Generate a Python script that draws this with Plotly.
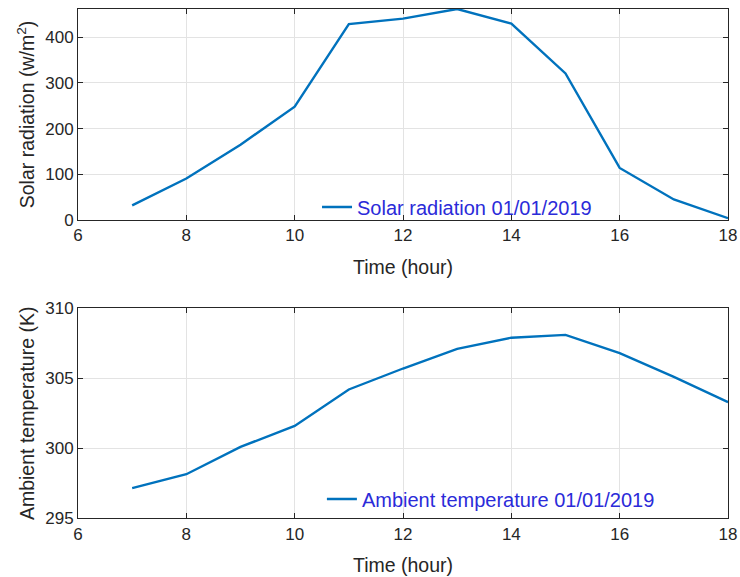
import plotly.graph_objects as go

hours = [7, 8, 9, 10, 11, 12, 13, 14, 15, 16, 17, 18]
solar_radiation = [32, 91, 165, 248, 429, 441, 462, 430, 321, 114, 45, 4]
ambient_temperature = [297.15, 298.15, 300.1, 301.6, 304.2, 305.7, 307.1, 307.9, 308.1, 306.8, 305.1, 303.3]
x_ticks = [6, 8, 10, 12, 14, 16, 18]
solar_ticks = [0, 100, 200, 300, 400]
temp_ticks = [295, 300, 305, 310]

LINE = "#0072BD"
AX = "#262626"
GRID = "#E3E3E3"
FONT = "Liberation Sans, Arial, sans-serif"
TITLE_FONT = dict(size=19.5, color=AX, family=FONT)

fig = go.Figure()
fig.add_trace(go.Scatter(x=hours, y=solar_radiation, mode="lines",
                         line=dict(color=LINE, width=2.4),
                         name="Solar radiation 01/01/2019",
                         xaxis="x", yaxis="y", legend="legend"))
fig.add_trace(go.Scatter(x=hours, y=ambient_temperature, mode="lines",
                         line=dict(color=LINE, width=2.4),
                         name="Ambient temperature 01/01/2019",
                         xaxis="x2", yaxis="y2", legend="legend2"))

axis_common = dict(showline=True, linecolor=AX, linewidth=1, mirror="ticks",
                   ticks="inside", ticklen=5, tickcolor=AX, automargin=False,
                   showgrid=True, gridcolor=GRID, gridwidth=1,
                   zeroline=False, tickfont=dict(size=17, color=AX, family=FONT))

fig.update_layout(
    width=740, height=577,
    margin=dict(l=0, r=0, t=0, b=0),
    paper_bgcolor="white", plot_bgcolor="white",
    font=dict(family=FONT, color=AX),
    showlegend=True,
    xaxis=dict(domain=[0.1054, 0.9838], range=[6, 18], tickvals=x_ticks,
               anchor="y", title=dict(text="Time (hour)", font=TITLE_FONT),
               **axis_common),
    yaxis=dict(domain=[0.6187, 0.9844], range=[0, 462], tickvals=solar_ticks,
               anchor="x", title=dict(text="Solar radiation (w/m<sup>2</sup>)", font=TITLE_FONT, standoff=5),
               **axis_common),
    xaxis2=dict(domain=[0.1054, 0.9838], range=[6, 18], tickvals=x_ticks,
                anchor="y2", title=dict(text="Time (hour)", font=TITLE_FONT),
                **axis_common),
    yaxis2=dict(domain=[0.1017, 0.4657], range=[295, 310], tickvals=temp_ticks,
                anchor="x2", title=dict(text="Ambient temperature (K)", font=TITLE_FONT, standoff=5),
                **axis_common),
    legend=dict(x=0.4284, y=1 - 207 / 577, xanchor="left", yanchor="middle",
                bgcolor="rgba(0,0,0,0)", borderwidth=0,
                font=dict(size=20, color="#2B2BD9", family=FONT)),
    legend2=dict(x=0.435, y=1 - 499 / 577, xanchor="left", yanchor="middle",
                 bgcolor="rgba(0,0,0,0)", borderwidth=0,
                 font=dict(size=20, color="#2B2BD9", family=FONT)),
)

fig.write_html("out.html", config={"displayModeBar": False},
               post_script="document.body.style.margin='0';")
